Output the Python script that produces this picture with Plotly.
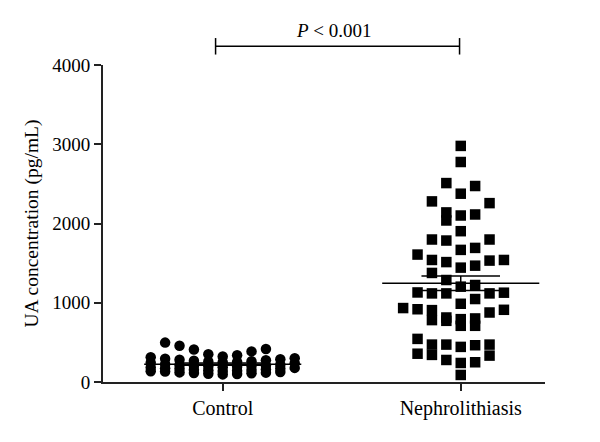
import numpy as np
import plotly.graph_objects as go

# ---------------- data ----------------
categories = ["Control", "Nephrolithiasis"]

control_values = [
    96, 101, 104, 109, 112, 118, 121, 127, 132, 136, 139, 143, 147, 150, 154, 158,
    166, 171, 175, 178, 183, 187, 192, 196, 201, 205, 209, 214, 218, 224,
    238, 243, 249, 254, 258, 263, 268, 274, 281, 287, 294, 301,
    312, 323, 338, 351, 386, 411, 417, 458, 497,
]

nephro_values = [
    2979, 2776, 2510, 2473, 2376, 2279, 2257, 2140, 2114, 2101, 2038, 1903,
    1798, 1785, 1798, 1692, 1667, 1608, 1513, 1540, 1540, 1532, 1468, 1443,
    1376, 1287, 1224, 1203, 1127, 1118, 1118, 1118, 1130, 1047, 987, 933,
    911, 907, 918, 877, 814, 802, 793, 781, 772, 709, 709, 544, 472, 472,
    472, 464, 443, 357, 342, 333, 278, 249, 240, 89,
]

y_ticks = [0, 1000, 2000, 3000, 4000]
y_title = "UA concentration (pg/mL)"
p_text = "<i>P</i> &lt; 0.001"

FONT = "Liberation Serif"


def swarm_offsets(values, row_height, col_step, max_per_row):
    """Prism-like column scatter: group into rows, spread each row on a grid."""
    order = sorted(range(len(values)), key=lambda i: -values[i])
    rows, cur = [], []
    for i in order:
        if cur and (values[cur[0]] - values[i] > row_height or len(cur) >= max_per_row):
            rows.append(cur)
            cur = []
        cur.append(i)
    if cur:
        rows.append(cur)
    offsets = [0.0] * len(values)
    for row in rows:
        n = len(row)
        pos = [k - n // 2 for k in range(n)]
        pos.sort(key=lambda p: (-abs(p), p))
        for idx, p in zip(row, pos):
            offsets[idx] = p * col_step
    return offsets


def mean_sem_path(center, vals, half_mean=0.33, half_sem=0.165):
    v = np.asarray(vals, dtype=float)
    m = v.mean()
    s = v.std(ddof=1) / np.sqrt(len(v))
    xs = [center - half_mean, center + half_mean, None,
          center - half_sem, center + half_sem, None,
          center - half_sem, center + half_sem, None,
          center, center]
    ys = [m, m, None, m + s, m + s, None, m - s, m - s, None, m - s, m + s]
    return xs, ys


fig = go.Figure()

col_step = 0.0605
ctrl_off = swarm_offsets(control_values, 180, col_step, 11)
neph_off = swarm_offsets(nephro_values, 180, col_step, 8)

fig.add_trace(go.Scatter(
    x=[0 + o for o in ctrl_off], y=control_values, mode="markers",
    marker=dict(symbol="circle", size=10.5, color="black", line=dict(width=0)),
    showlegend=False, hoverinfo="y"))
fig.add_trace(go.Scatter(
    x=[1 + o for o in neph_off], y=nephro_values, mode="markers",
    marker=dict(symbol="square", size=10.5, color="black", line=dict(width=0)),
    showlegend=False, hoverinfo="y"))

for c, vals in ((0, control_values), (1, nephro_values)):
    xs, ys = mean_sem_path(c, vals)
    fig.add_trace(go.Scatter(x=xs, y=ys, mode="lines",
                             line=dict(color="black", width=1.5),
                             showlegend=False, hoverinfo="skip"))

# significance bracket
fig.add_shape(type="line", xref="x", yref="paper", x0=-0.03, x1=0.995, y0=1.059, y1=1.059,
              line=dict(color="black", width=1.5))
fig.add_shape(type="line", xref="x", yref="paper", x0=-0.03, x1=-0.03, y0=1.033, y1=1.085,
              line=dict(color="black", width=1.5))
fig.add_shape(type="line", xref="x", yref="paper", x0=0.995, x1=0.995, y0=1.033, y1=1.085,
              line=dict(color="black", width=1.5))
fig.add_annotation(x=0.468, y=1.110, xref="x", yref="paper", text=p_text,
                   xanchor="center", yanchor="middle", showarrow=False,
                   font=dict(family=FONT, size=19, color="black"))

axis_common = dict(showline=True, linecolor="#222", linewidth=1.8, ticks="outside",
                   ticklen=7, tickwidth=1.8, tickcolor="#222", showgrid=False,
                   zeroline=False)

# the page body adds an 8 px offset, so the figure is 8 px smaller and the
# left/top margins are 8 px smaller to land the plot area where the reference has it
fig.update_layout(
    width=592, height=434,
    margin=dict(l=95, r=55, t=57, b=60),
    paper_bgcolor="white", plot_bgcolor="white",
    font=dict(family=FONT, size=19, color="black"),
    xaxis=dict(range=[-0.503, 1.354], tickvals=[0, 1], ticktext=categories,
               tickfont=dict(family=FONT, size=20, color="black"), **axis_common),
    yaxis=dict(range=[0, 4000], tickvals=y_ticks, ticktext=[str(t) for t in y_ticks],
               tickfont=dict(family=FONT, size=19, color="black"),
               title=dict(text=y_title, font=dict(family=FONT, size=19.5, color="black"),
                          standoff=8),
               **axis_common),
)

fig.write_html("out.html")
